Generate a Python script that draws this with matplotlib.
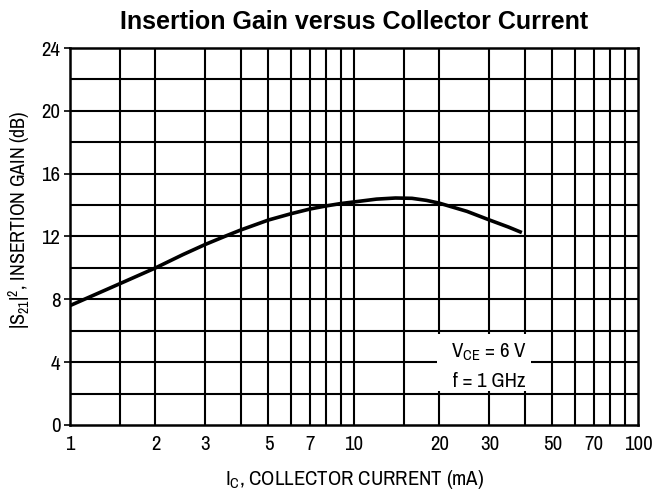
import matplotlib.pyplot as plt
from matplotlib.patches import Rectangle

NARROW = ['Archivo Narrow', 'Liberation Sans', 'DejaVu Sans']
plt.rcParams['font.family'] = NARROW
plt.rcParams['mathtext.fontset'] = 'custom'
plt.rcParams['mathtext.rm'] = 'Archivo Narrow'
plt.rcParams['mathtext.it'] = 'Archivo Narrow'

# Curve: collector current (mA) vs insertion gain (dB)
current_ma = [1, 1.5, 2, 2.5, 3, 3.5, 4, 5, 6, 7, 8, 9, 10, 12, 14, 16, 18, 20, 25, 30, 35, 39]
gain_db = [7.6, 9.0, 10.0, 10.85, 11.5, 12.0, 12.42, 13.05, 13.45, 13.75, 13.95, 14.1, 14.2,
           14.38, 14.45, 14.43, 14.3, 14.12, 13.6, 13.05, 12.6, 12.25]

x_grid = [1.5, 2, 3, 4, 5, 6, 7, 8, 9, 10, 15, 20, 30, 40, 50, 60, 70, 80, 90]
x_ticks = [1, 2, 3, 5, 7, 10, 20, 30, 50, 70, 100]
y_ticks = [0, 4, 8, 12, 16, 20, 24]
y_grid = [2, 6, 10, 14, 18, 22]

fig = plt.figure(figsize=(6.71, 4.97), dpi=100)
ax = fig.add_axes([0.1043, 0.1449, 0.8465, 0.7585])

ax.set_xscale('log')
ax.set_xlim(1, 100)
ax.set_ylim(0, 24)

# grid drawn by hand so the label box can sit over it
for xv in x_grid:
    ax.axvline(xv, color='black', linewidth=1.5, zorder=1)
for yv in y_ticks[1:-1] + y_grid:
    ax.axhline(yv, color='black', linewidth=1.5, zorder=1)

ax.plot(current_ma, gain_db, color='black', linewidth=2.6, zorder=4,
        solid_capstyle='butt', solid_joinstyle='round')

# white box behind the conditions text
ax.add_patch(Rectangle((19.6, 2.15), 42 - 19.6, 5.8 - 2.15, facecolor='white',
                       edgecolor='none', zorder=2))
ax.text(29.9, 4.6, r'$\mathregular{V_{CE}}$ = 6 V', ha='center', va='center',
        fontsize=15, zorder=3)
ax.text(29.9, 2.75, 'f = 1 GHz', ha='center', va='center', fontsize=15, zorder=3)

ax.set_xticks(x_ticks)
ax.set_xticklabels([str(v) for v in x_ticks])
ax.set_xticks([], minor=True)
ax.set_yticks(y_ticks)
ax.tick_params(axis='y', length=4, width=1.2, labelsize=15, pad=3)
ax.tick_params(axis='x', length=0, labelsize=15, pad=7)

for s in ax.spines.values():
    s.set_linewidth(1.8)
    s.set_zorder(5)

ax.set_title('Insertion Gain versus Collector Current', fontsize=18,
             fontweight='bold', pad=14, family=['Liberation Sans', 'DejaVu Sans'])
ax.set_xlabel(r'$\mathregular{I_C}$, COLLECTOR CURRENT (mA)', fontsize=15)
ax.set_ylabel(r'$\mathregular{|S_{21}|^2}$, INSERTION GAIN (dB)', fontsize=14.3)
ax.xaxis.set_label_coords(0.502, -0.115)
ax.yaxis.set_label_coords(-0.067, 0.544)

fig.savefig('out.png', dpi=100)
